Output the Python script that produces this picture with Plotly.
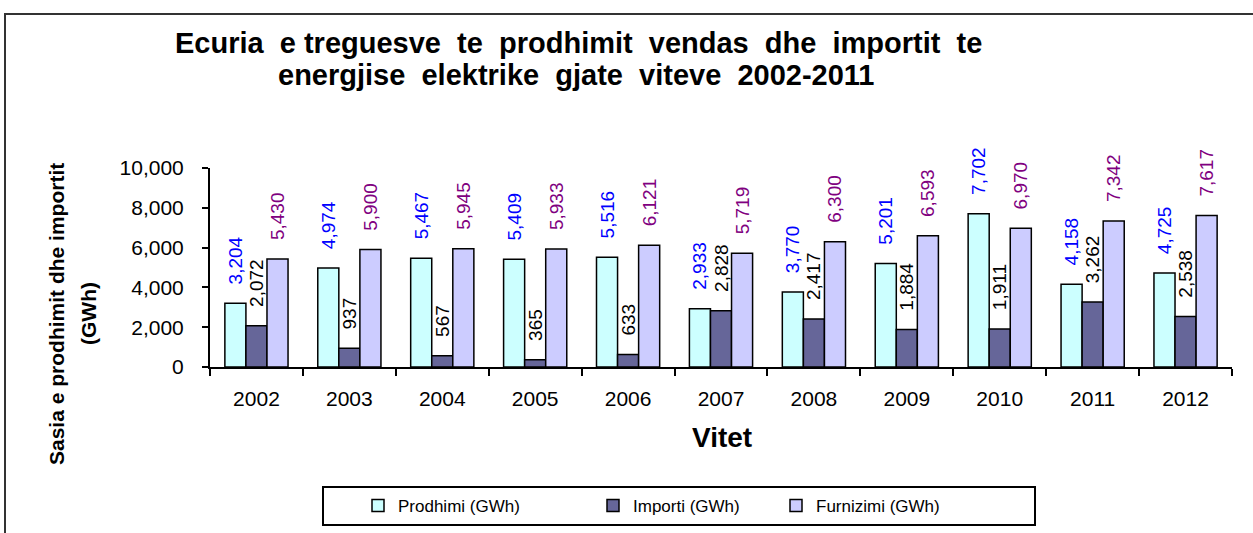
import plotly.graph_objects as go

years = ["2002", "2003", "2004", "2005", "2006", "2007", "2008", "2009", "2010", "2011", "2012"]
prodhimi = [3204, 4974, 5467, 5409, 5516, 2933, 3770, 5201, 7702, 4158, 4725]
importi = [2072, 937, 567, 365, 633, 2828, 2417, 1884, 1911, 3262, 2538]
furnizimi = [5430, 5900, 5945, 5933, 6121, 5719, 6300, 6593, 6970, 7342, 7617]

names = ["Prodhimi (GWh)", "Importi (GWh)", "Furnizimi (GWh)"]
fills = ["#CCFFFF", "#666699", "#CCCCFF"]
label_colors = ["#0000FF", "#000000", "#800080"]

FONT = "Arial, Liberation Sans, sans-serif"
W, H = 1253, 533
L, R, T, B = 210, 21, 168, 166
PW, PH = W - L - R, H - T - B

def px(x):
    return (x - L) / PW

def py(y):
    return (H - B - y) / PH

legend_ids = ["legend", "legend2", "legend3"]
legend_text_x = [398, 633, 816]

fig = go.Figure()
pad = "\u00a0\u00a0\u00a0"
for name, vals, fc, lc, lid in zip(names, [prodhimi, importi, furnizimi], fills, label_colors, legend_ids):
    fig.add_trace(go.Bar(
        x=years, y=vals, name=name, legend=lid,
        marker=dict(color=fc, line=dict(color="#000000", width=1.5)),
        text=[pad + f"{v:,}" for v in vals],
        textposition="outside", textangle=-90,
        textfont=dict(family=FONT, size=19, color=lc),
        cliponaxis=False, constraintext="none",
    ))

legends = {}
for lid, tx in zip(legend_ids, legend_text_x):
    legends[lid] = dict(
        orientation="h", x=px(tx - 40), xanchor="left", y=py(506), yanchor="middle",
        borderwidth=0, bgcolor="rgba(0,0,0,0)", font=dict(size=17),
    )

fig.update_layout(
    width=W, height=H,
    margin=dict(l=L, r=R, t=T, b=B, autoexpand=False),
    paper_bgcolor="white", plot_bgcolor="white",
    barmode="group", bargap=0.32, bargroupgap=0.0,
    font=dict(family=FONT, color="#000000"),
    showlegend=True,
    **legends,
    xaxis=dict(
        type="category", showline=True, linecolor="#000000", linewidth=2,
        ticks="outside", tickson="boundaries", ticklen=7, tickwidth=2, tickcolor="#000000",
        tickfont=dict(size=21), ticklabelstandoff=12, showgrid=False, zeroline=False,
    ),
    yaxis=dict(
        range=[0, 10000], dtick=2000, tickformat=",d",
        showline=True, linecolor="#000000", linewidth=2,
        ticks="outside", ticklen=6, tickwidth=2, tickcolor="#000000",
        tickfont=dict(size=21), ticklabelstandoff=14, showgrid=False, zeroline=False,
    ),
)

fig.add_annotation(
    text="<b>Ecuria  e treguesve  te  prodhimit  vendas  dhe  importit  te</b>",
    xref="paper", yref="paper", x=px(578), y=py(43), xanchor="center", yanchor="middle",
    showarrow=False, font=dict(size=29),
)
fig.add_annotation(
    text="<b>energjise  elektrike  gjate  viteve  2002-2011</b>",
    xref="paper", yref="paper", x=px(576), y=py(75), xanchor="center", yanchor="middle",
    showarrow=False, font=dict(size=29),
)
fig.add_annotation(
    text="<b>Sasia e prodhimit dhe importit</b>",
    xref="paper", yref="paper", x=px(56), y=py(314), xanchor="center", yanchor="middle",
    textangle=-90, showarrow=False, font=dict(size=21),
)
fig.add_annotation(
    text="<b>(GWh)</b>",
    xref="paper", yref="paper", x=px(88), y=py(314), xanchor="center", yanchor="middle",
    textangle=-90, showarrow=False, font=dict(size=21),
)
fig.add_annotation(
    text="<b>Vitet</b>",
    xref="paper", yref="paper", x=px(722), y=py(437), xanchor="center", yanchor="middle",
    showarrow=False, font=dict(size=28),
)
fig.add_shape(
    type="rect", xref="paper", yref="paper",
    x0=px(5), x1=px(1262), y0=py(14), y1=py(545),
    line=dict(color="#333333", width=2), fillcolor="rgba(0,0,0,0)", layer="below",
)
fig.add_shape(
    type="rect", xref="paper", yref="paper",
    x0=px(323), x1=px(1035), y0=py(487), y1=py(525),
    line=dict(color="#000000", width=2), fillcolor="white", layer="below",
)

fig.write_html(
    "out.html",
    config={"displayModeBar": False},
    post_script="document.body.style.margin='0';document.body.style.overflow='hidden';",
)
